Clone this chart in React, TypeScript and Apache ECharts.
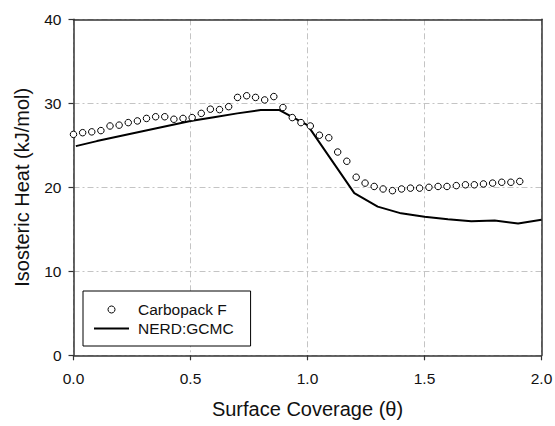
import React, { useEffect, useRef } from "react";
import * as echarts from "echarts";

// Experimental data: Carbopack F (open circles)
const coverageExp = [
  0.0, 0.039, 0.078, 0.117, 0.156, 0.195, 0.234, 0.273, 0.312, 0.351,
  0.39, 0.429, 0.468, 0.507, 0.546, 0.585, 0.624, 0.663, 0.701, 0.74,
  0.778, 0.817, 0.856, 0.895, 0.935, 0.972, 1.012, 1.051, 1.091, 1.129,
  1.168, 1.208, 1.246, 1.285, 1.323, 1.363, 1.402, 1.44, 1.479, 1.519,
  1.558, 1.596, 1.636, 1.675, 1.713, 1.752, 1.791, 1.83, 1.869, 1.907,
];
const heatExp = [
  26.3, 26.5, 26.6, 26.75, 27.3, 27.4, 27.7, 27.9, 28.2, 28.4,
  28.4, 28.1, 28.2, 28.3, 28.8, 29.3, 29.25, 29.6, 30.7, 30.9,
  30.7, 30.4, 30.8, 29.5, 28.3, 27.7, 27.3, 26.2, 25.9, 24.2,
  23.1, 21.2, 20.5, 20.1, 19.8, 19.6, 19.8, 19.9, 19.9, 20.0,
  20.1, 20.1, 20.2, 20.3, 20.3, 20.4, 20.5, 20.6, 20.6, 20.7,
];

// Simulation: NERD:GCMC (solid line)
const coverageSim = [
  0.01, 0.1, 0.2, 0.3, 0.4, 0.5, 0.6, 0.7, 0.8, 0.88,
  1.0, 1.2, 1.3, 1.4, 1.5, 1.6, 1.7, 1.8, 1.9, 2.0,
];
const heatSim = [
  24.9, 25.5, 26.1, 26.7, 27.3, 27.9, 28.35, 28.8, 29.2, 29.2,
  27.4, 19.3, 17.7, 16.9, 16.5, 16.2, 15.95, 16.05, 15.7, 16.15,
];

const seriesNames = ["Carbopack F", "NERD:GCMC"];
const xTitle = "Surface Coverage (θ)";
const yTitle = "Isosteric Heat (kJ/mol)";

const FONT = '"Liberation Sans", Arial, Helvetica, sans-serif';
const TEXT = "#111";
const AXIS = "#333";
const GRIDC = "#c4c4c4";

export default function App() {
  const ref = useRef<HTMLDivElement>(null);
  useEffect(() => {
    if (!ref.current) return;
    const chart = echarts.init(ref.current, undefined, { renderer: "svg" });
    const axisLineStyle = { color: AXIS, width: 1.5 };
    const option: any = {
      animation: false,
      backgroundColor: "#fff",
      textStyle: { fontFamily: FONT, color: TEXT },
      grid: {
        left: 73.5,
        right: 13.5,
        top: 19.3,
        bottom: 70.7,
        containLabel: false,
        outerBoundsMode: "none",
      },
      legend: {
        orient: "vertical",
        left: 83,
        top: 291,
        padding: [10, 17, 9, 11],
        itemWidth: 35,
        itemHeight: 7,
        itemGap: 2,
        borderColor: "#000",
        borderWidth: 1,
        borderRadius: 0,
        backgroundColor: "#fff",
        selectedMode: false,
        textStyle: {
          fontFamily: FONT,
          fontSize: 15.5,
          color: TEXT,
          lineHeight: 17,
          padding: [0, 0, 0, 4],
        },
        data: [
          {
            name: seriesNames[0],
            icon: "circle",
            itemStyle: { color: "#fff", borderColor: "#000", borderWidth: 1 },
          },
          {
            name: seriesNames[1],
            icon: "path://M0,0H35V2H0Z",
            itemStyle: { color: "#000", borderWidth: 0 },
          },
        ],
      },
      xAxis: [
        {
          type: "value",
          min: 0,
          max: 2,
          interval: 0.5,
          name: xTitle,
          nameLocation: "middle",
          nameGap: 44,
          nameTextStyle: { fontFamily: FONT, fontSize: 20, color: TEXT },
          axisLine: { show: true, onZero: false, lineStyle: axisLineStyle },
          axisTick: { show: true, length: 5, lineStyle: { color: AXIS, width: 1.2 } },
          axisLabel: {
            show: true,
            margin: 15,
            fontFamily: FONT,
            fontSize: 15.5,
            color: TEXT,
            formatter: (v: number) => v.toFixed(1),
          },
          splitLine: { show: true, lineStyle: { color: GRIDC, width: 1, type: [6, 3, 2, 3] } },
        },
        {
          type: "value",
          position: "top",
          min: 0,
          max: 2,
          axisLine: { show: true, onZero: false, lineStyle: axisLineStyle },
          axisTick: { show: false },
          axisLabel: { show: false },
          splitLine: { show: false },
        },
      ],
      yAxis: [
        {
          type: "value",
          min: 0,
          max: 40,
          interval: 10,
          name: yTitle,
          nameLocation: "middle",
          nameGap: 42,
          nameTextStyle: { fontFamily: FONT, fontSize: 20, color: TEXT },
          axisLine: { show: true, onZero: false, lineStyle: axisLineStyle },
          axisTick: { show: true, length: 5, lineStyle: { color: AXIS, width: 1.2 } },
          axisLabel: {
            show: true,
            margin: 12,
            fontFamily: FONT,
            fontSize: 15.5,
            color: TEXT,
          },
          splitLine: { show: true, lineStyle: { color: GRIDC, width: 1, type: [6, 3, 2, 3] } },
        },
        {
          type: "value",
          position: "right",
          min: 0,
          max: 40,
          axisLine: { show: true, onZero: false, lineStyle: axisLineStyle },
          axisTick: { show: false },
          axisLabel: { show: false },
          splitLine: { show: false },
        },
      ],
      series: [
        {
          name: seriesNames[1],
          type: "line",
          xAxisIndex: 0,
          yAxisIndex: 0,
          symbol: "none",
          showSymbol: false,
          lineStyle: { color: "#000", width: 2 },
          itemStyle: { color: "#000" },
          data: coverageSim.map((x, i) => [x, heatSim[i]]),
          z: 2,
        },
        {
          name: seriesNames[0],
          type: "scatter",
          xAxisIndex: 0,
          yAxisIndex: 0,
          symbol: "circle",
          symbolSize: 6.5,
          clip: false,
          itemStyle: { color: "#fff", borderColor: "#000", borderWidth: 1, opacity: 1 },
          data: coverageExp.map((x, i) => [x, heatExp[i]]),
          z: 3,
        },
      ],
    };
    chart.setOption(option);
    return () => chart.dispose();
  }, []);
  return (
    <div
      ref={ref}
      style={{ position: "fixed", left: 0, top: 0, width: 555, height: 426, background: "#fff" }}
    />
  );
}
